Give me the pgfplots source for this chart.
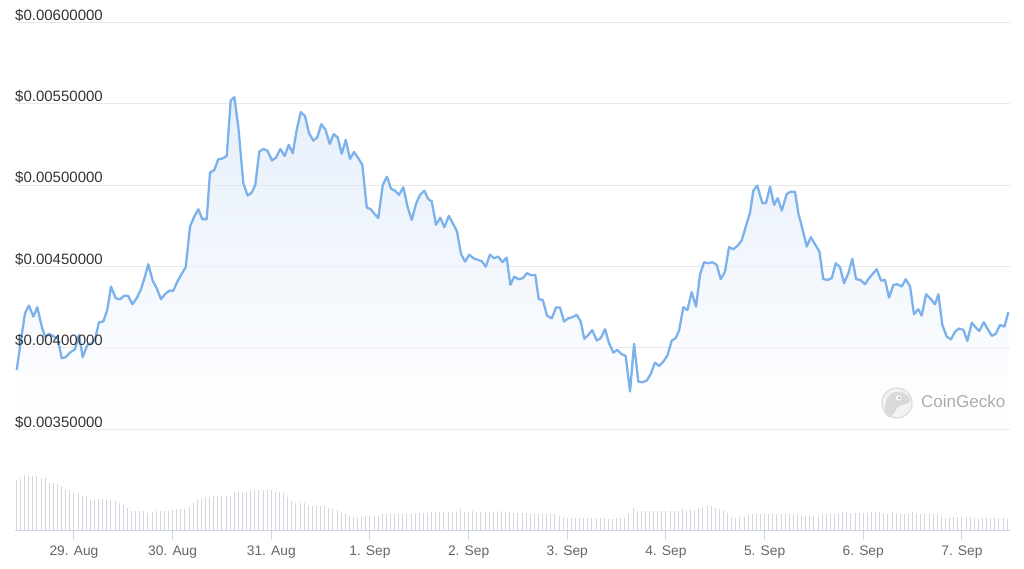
\documentclass[border=0pt]{standalone}
\usepackage{fontspec}
\setmainfont{Liberation Sans}
\usepackage{pgfplots}
\pgfplotsset{compat=1.18}
\usepackage{pgfplotstable}
\definecolor{linec}{RGB}{124,178,236}
\definecolor{gridc}{RGB}{232,232,232}
\definecolor{barc}{RGB}{211,214,222}
\definecolor{basec}{RGB}{204,214,235}
\definecolor{ylab}{RGB}{51,51,51}
\definecolor{xlab}{RGB}{102,102,102}
\definecolor{fillc}{RGB}{214,228,247}

\pgfplotsset{priceaxis/.style={at={(15pt,138.7pt)}, anchor=south west, scale only axis,
  width=995pt, height=407pt,
  xmin=0.402, xmax=10.486, ymin=0.0035, ymax=0.006,
  scaled y ticks=false,
  axis line style={draw=none}, xtick=\empty,
  ytick={0.0035,0.004,0.0045,0.005,0.0055,0.006},
  major tick length=0pt, clip=false}}

\pgfplotstableread{
x y
0.419 0.003865
0.461 0.004040
0.503 0.004213
0.544 0.004260
0.588 0.004192
0.628 0.004250
0.673 0.004131
0.706 0.004069
0.750 0.004086
0.797 0.004069
0.835 0.004060
0.875 0.003937
0.916 0.003943
0.959 0.003971
1.010 0.003992
1.051 0.004080
1.088 0.003943
1.135 0.004018
1.179 0.004029
1.213 0.004053
1.253 0.004158
1.297 0.004162
1.337 0.004233
1.375 0.004377
1.423 0.004305
1.466 0.004299
1.510 0.004321
1.550 0.004319
1.591 0.004268
1.635 0.004305
1.676 0.004356
1.715 0.004430
1.753 0.004514
1.798 0.004412
1.838 0.004367
1.882 0.004299
1.922 0.004330
1.966 0.004352
2.006 0.004350
2.047 0.004407
2.090 0.004453
2.132 0.004496
2.176 0.004745
2.219 0.004807
2.260 0.004852
2.300 0.004791
2.345 0.004791
2.378 0.005077
2.422 0.005093
2.462 0.005159
2.503 0.005163
2.548 0.005179
2.588 0.005519
2.625 0.005540
2.665 0.005359
2.716 0.005012
2.760 0.004936
2.801 0.004954
2.837 0.005001
2.878 0.005206
2.919 0.005222
2.959 0.005212
3.007 0.005151
3.047 0.005169
3.091 0.005222
3.135 0.005179
3.176 0.005247
3.217 0.005196
3.257 0.005339
3.298 0.005448
3.341 0.005425
3.382 0.005319
3.425 0.005273
3.466 0.005294
3.506 0.005374
3.547 0.005343
3.592 0.005253
3.632 0.005313
3.673 0.005292
3.713 0.005192
3.754 0.005278
3.797 0.005161
3.838 0.005204
3.881 0.005165
3.922 0.005124
3.967 0.004862
4.007 0.004852
4.046 0.004823
4.084 0.004797
4.129 0.005001
4.172 0.005052
4.213 0.004977
4.253 0.004966
4.294 0.004940
4.337 0.004987
4.382 0.004864
4.423 0.004786
4.466 0.004885
4.507 0.004940
4.550 0.004966
4.591 0.004913
4.625 0.004901
4.669 0.004756
4.712 0.004800
4.753 0.004741
4.798 0.004811
4.844 0.004760
4.882 0.004714
4.922 0.004577
4.963 0.004530
5.006 0.004573
5.047 0.004551
5.092 0.004541
5.132 0.004533
5.173 0.004499
5.216 0.004573
5.257 0.004551
5.300 0.004561
5.341 0.004526
5.385 0.004555
5.422 0.004387
5.462 0.004438
5.503 0.004422
5.548 0.004428
5.591 0.004459
5.632 0.004447
5.675 0.004448
5.710 0.004299
5.750 0.004295
5.794 0.004198
5.842 0.004182
5.885 0.004248
5.926 0.004248
5.966 0.004162
6.010 0.004182
6.054 0.004189
6.095 0.004203
6.135 0.004162
6.172 0.004055
6.212 0.004080
6.253 0.004109
6.298 0.004045
6.338 0.004060
6.382 0.004115
6.422 0.004029
6.466 0.003971
6.506 0.003988
6.551 0.003961
6.591 0.003951
6.635 0.003732
6.676 0.004025
6.719 0.003793
6.760 0.003789
6.804 0.003799
6.845 0.003840
6.888 0.003910
6.929 0.003889
6.973 0.003916
7.013 0.003953
7.058 0.004045
7.098 0.004060
7.132 0.004106
7.175 0.004250
7.216 0.004233
7.260 0.004342
7.304 0.004254
7.345 0.004453
7.385 0.004526
7.429 0.004520
7.469 0.004526
7.514 0.004510
7.554 0.004422
7.598 0.004469
7.638 0.004619
7.682 0.004606
7.723 0.004627
7.767 0.004659
7.808 0.004745
7.851 0.004831
7.885 0.004966
7.925 0.004997
7.976 0.004889
8.013 0.004889
8.054 0.004991
8.095 0.004878
8.132 0.004920
8.173 0.004843
8.223 0.004946
8.264 0.004960
8.307 0.004958
8.341 0.004827
8.385 0.004725
8.426 0.004622
8.467 0.004680
8.510 0.004637
8.554 0.004592
8.594 0.004422
8.639 0.004418
8.679 0.004428
8.720 0.004520
8.763 0.004496
8.804 0.004397
8.848 0.004459
8.888 0.004547
8.926 0.004422
8.969 0.004418
9.017 0.004391
9.057 0.004428
9.101 0.004459
9.135 0.004483
9.179 0.004413
9.219 0.004418
9.260 0.004309
9.304 0.004387
9.344 0.004391
9.389 0.004377
9.429 0.004422
9.473 0.004377
9.513 0.004207
9.557 0.004238
9.591 0.004198
9.635 0.004330
9.676 0.004305
9.726 0.004268
9.760 0.004330
9.800 0.004141
9.845 0.004069
9.888 0.004053
9.929 0.004100
9.970 0.004119
10.013 0.004111
10.054 0.004043
10.098 0.004155
10.139 0.004125
10.175 0.004104
10.220 0.004158
10.260 0.004115
10.301 0.004074
10.341 0.004086
10.385 0.004141
10.429 0.004131
10.469 0.004219
}\price

\pgfplotstableread{
h v
10 50.7
11 51.7
12 55.7
13 54.7
14 54.7
15 54.7
16 52.4
17 53.0
18 48.0
19 48.0
20 46.4
21 45.0
22 41.7
23 40.7
24 38.0
25 36.7
26 34.7
27 34.7
28 30.7
29 30.7
30 31.7
31 31.7
32 31.7
33 30.4
34 29.7
35 27.4
36 25.7
37 23.0
38 19.7
39 19.7
40 19.7
41 19.7
42 18.0
43 18.7
44 19.7
45 19.7
46 19.7
47 20.0
48 20.7
49 21.4
50 21.5
51 21.7
52 23.4
53 27.4
54 30.7
55 32.0
56 33.4
57 33.4
58 34.7
59 34.7
60 34.7
61 34.7
62 34.7
63 38.4
64 39.0
65 37.4
66 39.0
67 40.0
68 40.7
69 40.7
70 40.7
71 40.7
72 40.7
73 39.0
74 39.0
75 37.4
76 33.4
77 29.7
78 27.4
79 27.4
80 27.4
81 24.7
82 24.7
83 24.7
84 24.7
85 24.7
86 23.0
87 21.7
88 20.7
89 18.0
90 16.7
91 15.0
92 13.4
93 12.4
94 13.4
95 14.7
96 14.7
97 14.7
98 14.7
99 16.4
100 16.4
101 16.4
102 16.4
103 16.4
104 16.4
105 16.4
106 16.7
107 18.0
108 18.0
109 17.4
110 18.0
111 19.0
112 19.0
113 19.0
114 19.0
115 19.0
116 19.0
117 19.0
118 21.4
119 19.0
120 19.0
121 20.0
122 19.0
123 19.0
124 19.0
125 19.0
126 19.0
127 19.0
128 20.0
129 19.0
130 18.4
131 18.0
132 18.0
133 18.0
134 18.0
135 16.7
136 16.7
137 16.7
138 16.7
139 16.7
140 16.7
141 16.7
142 14.7
143 14.0
144 12.4
145 12.4
146 12.4
147 12.4
148 12.4
149 12.4
150 12.4
151 12.4
152 12.4
153 12.4
154 11.4
155 11.4
156 12.4
157 12.4
158 13.0
159 16.4
160 22.4
161 20.0
162 20.0
163 20.0
164 20.0
165 20.0
166 20.0
167 20.0
168 20.0
169 20.0
170 20.0
171 20.0
172 21.4
173 20.0
174 20.7
175 20.7
176 22.4
177 23.4
178 24.7
179 24.7
180 23.0
181 21.7
182 20.7
183 17.4
184 13.4
185 12.4
186 13.4
187 14.0
188 15.7
189 16.4
190 16.4
191 16.4
192 16.4
193 16.4
194 16.4
195 16.4
196 16.4
197 16.4
198 16.4
199 15.7
200 16.4
201 14.7
202 14.7
203 14.7
204 14.7
205 14.0
206 16.4
207 16.4
208 16.4
209 16.7
210 17.4
211 18.4
212 18.4
213 17.4
214 17.4
215 17.4
216 17.4
217 17.4
218 18.4
219 18.4
220 18.4
221 17.4
222 16.7
223 18.4
224 17.4
225 16.4
226 16.4
227 16.4
228 18.4
229 16.4
230 16.4
231 16.4
232 16.4
233 16.4
234 16.4
235 13.4
236 12.4
237 12.4
238 13.4
239 13.4
240 13.4
241 12.4
242 13.4
243 12.4
244 11.4
245 12.4
246 12.4
247 12.4
248 12.4
249 12.4
250 12.4
251 11.4
}\volume

\begin{document}
\begin{tikzpicture}[x=1pt,y=1pt]
\path[use as bounding box] (0,0) rectangle (1024,568);

% price panel: grid, area and line
\begin{axis}[priceaxis, yticklabels={},
  ymajorgrids, grid style={draw=gridc, line width=1pt}]
\addplot[draw=none, top color=fillc, bottom color=white, fill opacity=0.6]
  table[x=x,y=y]{\price} -- (axis cs:10.469,0.0035) -- (axis cs:0.419,0.0035) -- cycle;
\addplot[linec, line width=2.3pt, line join=round, mark=none] table[x=x,y=y]{\price};
\end{axis}

% price panel: tick labels drawn on top
\begin{axis}[priceaxis,
  yticklabels={\$0.00350000,\$0.00400000,\$0.00450000,\$0.00500000,\$0.00550000,\$0.00600000},
  yticklabel style={anchor=base west, inner sep=0pt, yshift=2.2pt,
    font=\fontsize{15}{16}\selectfont, text=ylab}]
\end{axis}

% volume panel
\begin{axis}[at={(15pt,37.3pt)}, anchor=south west, scale only axis,
  width=995pt, height=60pt,
  xmin=9.65, xmax=251.7, ymin=0, ymax=60,
  hide y axis, axis x line*=bottom,
  x axis line style={draw=basec, line width=1pt},
  xtick={24,48,...,240},
  xticklabels={29. Aug,30. Aug,31. Aug,1. Sep,2. Sep,3. Sep,4. Sep,5. Sep,6. Sep,7. Sep},
  tick align=outside, major tick length=9pt,
  xtick style={draw=basec, line width=1pt},
  xticklabel style={anchor=north, inner sep=0pt, yshift=-6pt,
    font=\fontsize{13.8}{16}\selectfont, text=xlab},
  clip=false]
\addplot[ycomb, draw=barc, line width=1pt, mark=none] table[x=h,y=v]{\volume};
\end{axis}

% watermark
\fill[gray!10] (897,165) circle (15.5);
\draw[gray!30, line width=1pt] (897,165) circle (15);
\fill[gray!30] (885,154) .. controls (884,170) and (890,177) .. (899,176)
  .. controls (907,175) and (911,171) .. (910,166)
  .. controls (906,163) and (900,164) .. (897,160)
  .. controls (895,156) and (893,152) .. (889,151) -- cycle;
\fill[white] (898.5,170) circle (2.6);
\fill[gray!60] (899,170) circle (1.3);
\node[anchor=west, inner sep=0pt, text=gray!65, font=\fontsize{17}{20}\selectfont] at (921,166.5) {CoinGecko};
\end{tikzpicture}
\end{document}
